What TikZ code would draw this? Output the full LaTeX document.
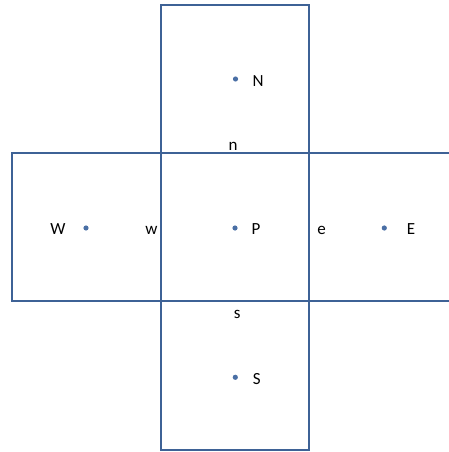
\documentclass[tikz,border=0pt]{standalone}
\usepackage{fontspec}
\setmainfont{Carlito}
\usepackage{xcolor}
\usepackage{tikz}

\definecolor{cellblue}{HTML}{3E6296}
\definecolor{dotblue}{HTML}{4A6FA5}

\begin{document}
\begin{tikzpicture}[
    x=1pt,
    y=-1pt,
    cell/.style={
        draw=cellblue,
        line width=1.6pt
    },
    point/.style={
        fill=dotblue
    },
    lbl/.style={
        anchor=base,
        inner sep=0pt,
        font=\fontsize{17}{20}\selectfont
    }
]

\useasboundingbox (0,0) rectangle (449,452);


\draw[cell] (161,5) rectangle (309,153);
\draw[cell] (161,301) rectangle (309,450);
\draw[cell] (12,153) rectangle (161,301);
\draw[cell] (161,153) rectangle (309,301);


\draw[cell] (309,153) -- (449,153);
\draw[cell] (309,301) -- (449,301);


\coordinate (N) at (235.5,79);
\coordinate (W) at (86,228);
\coordinate (P) at (235,228);
\coordinate (E) at (384.3,228);
\coordinate (S) at (235.3,377.3);

\fill[point] (N) circle (2.6pt);
\fill[point] (W) circle (2.6pt);
\fill[point] (P) circle (2.6pt);
\fill[point] (E) circle (2.6pt);
\fill[point] (S) circle (2.6pt);


\node[lbl] (lN) at (258,86) {N};
\node[lbl] (lW) at (58,234) {W};
\node[lbl] (lP) at (256,234) {P};
\node[lbl] (lE) at (411,234) {E};
\node[lbl] (lS) at (256.7,384) {S};


\node[lbl] (ln) at (233,150) {n};
\node[lbl] (lw) at (151.5,234) {w};
\node[lbl] (le) at (321.7,234.5) {e};
\node[lbl] (ls) at (237.3,318) {s};

\end{tikzpicture}
\end{document}
